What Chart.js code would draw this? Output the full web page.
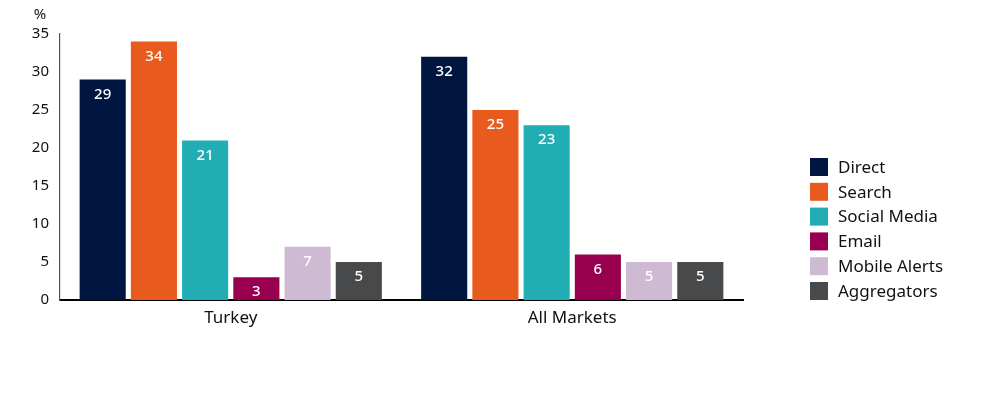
<!DOCTYPE html>
<html>
<head>
<meta charset="utf-8">
<script src="https://cdn.jsdelivr.net/npm/chart.js@4.4.1/dist/chart.umd.min.js"></script>
<style>
html,body{margin:0;padding:0;background:#fff;}
#wrap{width:1004px;height:396px;position:relative;}
</style>
</head>
<body>
<div id="wrap"><canvas id="c" width="1004" height="396"></canvas></div>
<script>
const categories = ["Turkey", "All Markets"];
const seriesNames = ["Direct", "Search", "Social Media", "Email", "Mobile Alerts", "Aggregators"];
const direct = [29, 32];
const search = [34, 25];
const socialMedia = [21, 23];
const email = [3, 6];
const mobileAlerts = [7, 5];
const aggregators = [5, 5];
const yTicks = [0, 5, 10, 15, 20, 25, 30, 35];
const unitLabel = "%";

const colors = ["#001641", "#E95A1F", "#20ADB3", "#98004F", "#CFBAD4", "#48494B"];
const seriesValues = [direct, search, socialMedia, email, mobileAlerts, aggregators];

const datasets = seriesNames.map((n, i) => ({
  label: n,
  data: seriesValues[i],
  backgroundColor: colors[i],
  borderColor: colors[i],
  borderWidth: 0,
  barPercentage: 0.9,
  categoryPercentage: 0.9
}));

const FONT = "'Noto Sans', 'Open Sans', sans-serif";

const extras = {
  id: 'extras',
  afterDatasetsDraw(chart) {
    const ctx = chart.ctx;
    ctx.save();
    ctx.fillStyle = '#fff';
    ctx.font = "500 15px " + FONT;
    ctx.textAlign = 'center';
    ctx.textBaseline = 'middle';
    chart.data.datasets.forEach((ds, di) => {
      const meta = chart.getDatasetMeta(di);
      meta.data.forEach((bar, i) => {
        ctx.fillText(String(ds.data[i]), bar.x, bar.y + 15);
      });
    });
    ctx.restore();
  },
  afterDraw(chart) {
    const ctx = chart.ctx;
    ctx.save();
    ctx.fillStyle = '#111';
    ctx.font = "15px " + FONT;
    ctx.textAlign = 'center';
    ctx.textBaseline = 'middle';
    ctx.fillText(unitLabel, 40, 15);
    const x0 = 810, y0 = 167, step = 24.8;
    ctx.textAlign = 'left';
    ctx.font = "17px " + FONT;
    chart.data.datasets.forEach((ds, i) => {
      const cy = y0 + i * step;
      ctx.fillStyle = ds.backgroundColor;
      ctx.fillRect(x0, cy - 9, 18, 18);
      ctx.fillStyle = '#111';
      ctx.fillText(ds.label, x0 + 28, cy + 1);
    });
    ctx.restore();
  }
};

new Chart(document.getElementById('c'), {
  type: 'bar',
  data: { labels: categories, datasets },
  options: {
    responsive: false,
    animation: false,
    devicePixelRatio: 1,
    layout: { padding: { left: 0, right: 261, top: 34, bottom: 0 } },
    plugins: { legend: { display: false }, tooltip: { enabled: false } },
    scales: {
      x: {
        grid: { display: false, drawTicks: false },
        border: { display: true, color: '#000', width: 2 },
        ticks: { color: '#111', font: { family: FONT, size: 17 }, padding: 8 },
        afterFit(s) { s.height = 96; }
      },
      y: {
        min: 0, max: 35,
        afterBuildTicks(s) { s.ticks = yTicks.map(v => ({ value: v })); },
        grid: { display: false, drawTicks: false },
        border: { display: true, color: '#555', width: 1.2 },
        ticks: { color: '#111', font: { family: FONT, size: 15 }, padding: 11 },
        afterFit(s) { s.width = 60; }
      }
    }
  },
  plugins: [extras]
});
</script>
</body>
</html>
